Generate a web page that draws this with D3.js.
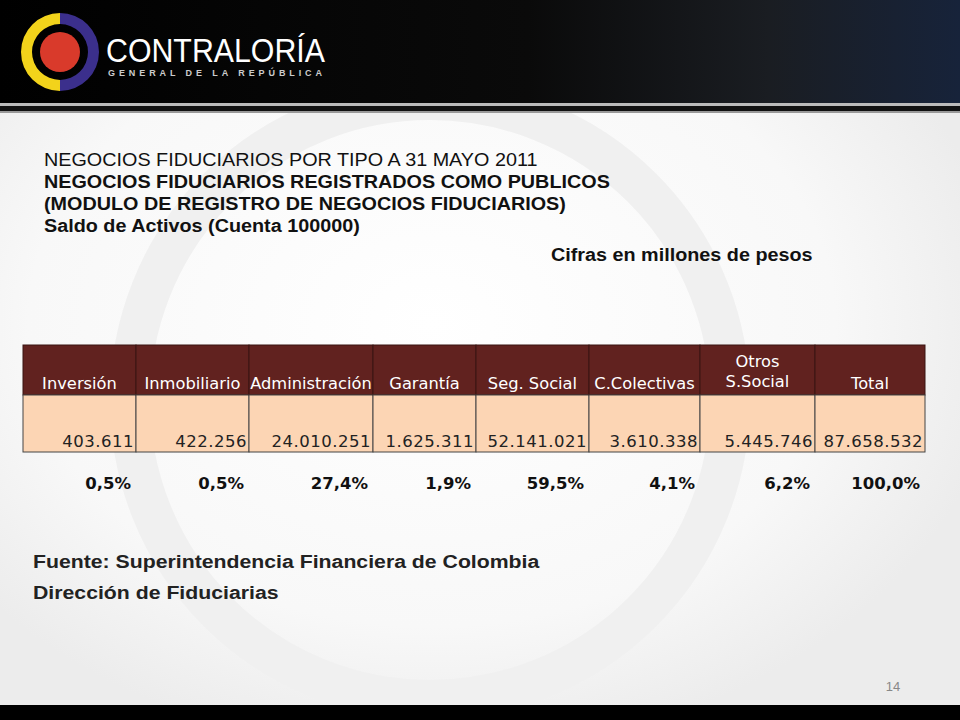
<!DOCTYPE html>
<html><head><meta charset="utf-8">
<script src="https://cdn.jsdelivr.net/npm/d3@7"></script>
<style>body{margin:0;background:#fff}svg{display:block}</style>
</head><body>
<script>
const categories = ["Inversión","Inmobiliario","Administración","Garantía","Seg. Social","C.Colectivas","Otros S.Social","Total"];
const values = ["403.611","422.256","24.010.251","1.625.311","52.141.021","3.610.338","5.445.746","87.658.532"];
const shares = ["0,5%","0,5%","27,4%","1,9%","59,5%","4,1%","6,2%","100,0%"];
const colEdges = [23,136,249,373,476,589,700,815,925];

const svg = d3.select("body").append("svg").attr("width",960).attr("height",720);
function fit(sel, factor){ sel.each(function(){ const L=this.getComputedTextLength(); d3.select(this).attr("textLength",L*factor).attr("lengthAdjust","spacingAndGlyphs"); }); return sel; }
const defs = svg.append("defs");
const g1 = defs.append("linearGradient").attr("id","hdr").attr("x1",0).attr("x2",1);
g1.append("stop").attr("offset",0).attr("stop-color","#000");
g1.append("stop").attr("offset",0.55).attr("stop-color","#0a0a0a");
g1.append("stop").attr("offset",0.8).attr("stop-color","#1a1d22");
g1.append("stop").attr("offset",1).attr("stop-color","#17233a");
const rg = defs.append("radialGradient").attr("id","bg").attr("cx",0.45).attr("cy",0.45).attr("r",0.6);
rg.append("stop").attr("offset",0).attr("stop-color","#fff");
rg.append("stop").attr("offset",0.7).attr("stop-color","#f8f8f8");
rg.append("stop").attr("offset",1).attr("stop-color","#ececec");
svg.append("rect").attr("width",960).attr("height",720).attr("fill","url(#bg)");
svg.append("circle").attr("cx",430).attr("cy",400).attr("r",300).attr("fill","none").attr("stroke","#f0f0f0").attr("stroke-width",40);
svg.append("rect").attr("width",960).attr("height",103).attr("fill","url(#hdr)");
svg.append("rect").attr("y",103).attr("width",960).attr("height",3).attr("fill","#bbb");
svg.append("rect").attr("y",106).attr("width",960).attr("height",5).attr("fill","#111");
svg.append("rect").attr("y",111).attr("width",960).attr("height",2).attr("fill","#999");
svg.append("rect").attr("y",705).attr("width",960).attr("height",15).attr("fill","#000");

// logo
const arcG = svg.append("g").attr("transform","translate(60,52)");
arcG.append("path").attr("d",d3.arc()({innerRadius:28,outerRadius:39,startAngle:Math.PI,endAngle:2*Math.PI})).attr("fill","#f2d31b");
arcG.append("path").attr("d",d3.arc()({innerRadius:28,outerRadius:39,startAngle:0,endAngle:Math.PI})).attr("fill","#3b2f8c");
arcG.append("circle").attr("r",20).attr("fill","#d93a2b");
svg.append("text").attr("x",106).attr("y",62).attr("fill","#fff").attr("font-family","Liberation Sans, Arial").attr("font-size",34).attr("textLength",219).attr("lengthAdjust","spacingAndGlyphs").text("CONTRALORÍA");
svg.append("text").attr("x",108).attr("y",76).attr("fill","#ccc").attr("font-family","Liberation Sans, Arial").attr("font-weight","bold").attr("font-size",9).attr("textLength",214).attr("lengthAdjust","spacing").text("GENERAL DE LA REPÚBLICA");

const F = "Liberation Sans, Arial";
const titles = [
 {t:"NEGOCIOS FIDUCIARIOS POR TIPO A 31 MAYO 2011",y:166,b:false},
 {t:"NEGOCIOS FIDUCIARIOS REGISTRADOS COMO PUBLICOS",y:188,b:true},
 {t:"(MODULO DE REGISTRO DE NEGOCIOS FIDUCIARIOS)",y:210,b:true},
 {t:"Saldo de Activos (Cuenta 100000)",y:232,b:true}];
titles.forEach(d=>fit(svg.append("text").attr("x",44).attr("y",d.y).attr("font-family",F).attr("font-size",17.5).attr("font-weight",d.b?"bold":"normal").attr("fill","#111").text(d.t),1.13));
fit(svg.append("text").attr("x",551).attr("y",261).attr("font-family",F).attr("font-size",17.5).attr("font-weight","bold").attr("fill","#111").text("Cifras en millones de pesos"),1.13);

const x = d3.scaleOrdinal().domain(categories).range(colEdges.slice(0,-1));
const w = c => colEdges[categories.indexOf(c)+1]-x(c);
const T = "DejaVu Sans, Verdana";
const cells = svg.append("g").selectAll("g").data(categories).join("g");
cells.append("rect").attr("x",d=>x(d)).attr("y",345).attr("width",w).attr("height",50).attr("fill","#61221f").attr("stroke","#3a1512");
cells.append("rect").attr("x",d=>x(d)).attr("y",395).attr("width",w).attr("height",57).attr("fill","#fcd5b4").attr("stroke","#444");
cells.each(function(d){
  const g=d3.select(this), parts=d==="Otros S.Social"?["Otros","S.Social"]:[d];
  parts.forEach((p,i)=>fit(g.append("text").attr("x",x(d)+w(d)/2).attr("y",parts.length>1?367+i*20:389).attr("text-anchor","middle").attr("font-family",T).attr("font-size",15.5).attr("fill","#fff").text(p),1.05));
});
cells.append("text").attr("x",d=>x(d)+w(d)-2).attr("y",447).attr("text-anchor","end").attr("font-family",T).attr("font-size",16.5).attr("letter-spacing",0.5).attr("fill","#222").text((d,i)=>values[i]);
cells.append("text").attr("x",d=>x(d)+w(d)-5).attr("y",489).attr("text-anchor","end").attr("font-family",T).attr("font-weight","bold").attr("font-size",16.5).attr("fill","#111").text((d,i)=>shares[i]);

fit(svg.append("text").attr("x",33).attr("y",568).attr("font-family",F).attr("font-size",18).attr("font-weight","bold").attr("fill","#222").text("Fuente: Superintendencia Financiera de Colombia"),1.18);
fit(svg.append("text").attr("x",33).attr("y",599).attr("font-family",F).attr("font-size",18).attr("font-weight","bold").attr("fill","#222").text("Dirección de Fiduciarias"),1.18);
svg.append("text").attr("x",893).attr("y",691).attr("text-anchor","middle").attr("font-family",F).attr("font-size",13).attr("fill","#888").text("14");
</script>
</body></html>
